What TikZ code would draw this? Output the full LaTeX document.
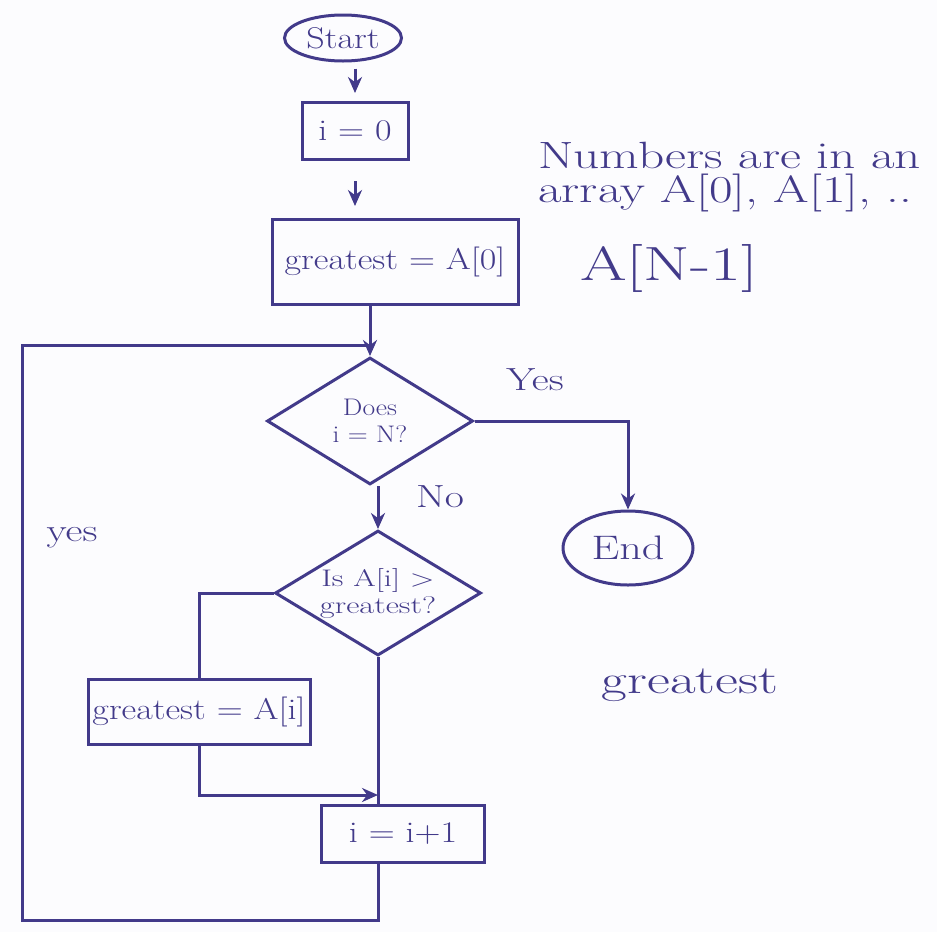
\documentclass[tikz,border=0pt]{standalone}
\usepackage{graphicx}
\usetikzlibrary{shapes.geometric,arrows.meta}
\definecolor{ink}{RGB}{66,58,138}
\definecolor{paper}{RGB}{252,252,254}
\newcommand\hwide[2][1.2]{\scalebox{#1}[1]{#2}}
\begin{document}
\begin{tikzpicture}[x=1pt,y=-1pt,
  every node/.style={text=ink, font=\fontsize{30}{34}\selectfont},
  flow/.style={draw=ink, line width=3pt},
  boxnode/.style={flow, rectangle, inner sep=2pt},
  termnode/.style={flow, ellipse, inner sep=0pt},
  decnode/.style={flow, diamond, aspect=1.6, inner sep=0pt, align=center, font=\fontsize{24}{27}\selectfont},
  conn/.style={draw=ink, line width=3pt},
  arr/.style={conn, -{Stealth[length=16pt,width=14pt]}},
  lbl/.style={font=\fontsize{32}{36}\selectfont},
  notetext/.style={font=\fontsize{38}{40}\selectfont, inner sep=0pt}]
\path[fill=paper, use as bounding box] (0,0) rectangle (937,932);

% nodes
\node[termnode, minimum width=117pt, minimum height=46pt] (start) at (343,38) {\hwide{Start}};
\node[boxnode, minimum width=106pt, minimum height=57pt] (init) at (355,131) {\hwide{i = 0}};
\node[boxnode, minimum width=246pt, minimum height=85pt] (g0) at (395,262) {\hwide{greatest = A[0]}};
\node[decnode, minimum width=206pt, minimum height=127pt] (d1) at (370,421) {\hwide[1.15]{Does}\\ \hwide[1.15]{i = N?}};
\node[decnode, minimum width=206pt, minimum height=125pt] (d2) at (378,593) {\hwide[1.35]{Is A[i] >}\\ \hwide[1.35]{greatest?}};
\node[termnode, minimum width=130pt, minimum height=74pt, font=\fontsize{34}{38}\selectfont] (fin) at (628,548) {\hwide[1.3]{End}};
\node[boxnode, minimum width=222pt, minimum height=65pt] (ga) at (199,712) {\hwide{greatest = A[i]}};
\node[boxnode, minimum width=163pt, minimum height=57pt] (inc) at (403,834) {\hwide{i = i+1}};

% text
\node[notetext, anchor=west] (note1) at (538,155) {\hwide[1.35]{Numbers are in an}};
\node[notetext, anchor=west] (note1b) at (538,193) {\hwide[1.35]{array A[0], A[1], ..}};
\node[notetext, anchor=west, font=\fontsize{48}{50}\selectfont] (note2) at (580,268) {\hwide[1.4]{A[N-1]}};
\node[lbl] (lyes) at (535,380) {\hwide[1.3]{Yes}};
\node[lbl] (lno) at (440,497) {\hwide[1.3]{No}};
\node[lbl] (lyes2) at (72,538) {\hwide[1.3]{yes}};
\node[notetext, font=\fontsize{40}{44}\selectfont] (gout) at (690,685) {\hwide[1.4]{greatest}};

% coordinates
\coordinate (lb) at (22,920);
\coordinate (lt) at (22,345);
\coordinate (join) at (378,795);

% connectors
\draw[arr, shorten <=6pt, shorten >=8pt] (start.south -| init.north) -- (init.north);
\draw[arr, shorten <=20pt, shorten >=12pt] (init.south) -- (init.south |- g0.north);
\draw[arr] (d1.north |- g0.south) -- (d1.north);
\draw[arr] (d1.east) -- (d1.east -| fin.north) -- (fin.north);
\draw[arr] (d1.south -| d2.north) -- (d2.north);
\draw[conn] (d2.west) -| (ga.north);
\draw[arr] (ga.south) |- (join);
\draw[conn] (d2.south) -- (d2.south |- inc.north);
\draw[conn] (inc.south -| d2.south) |- (lb) -- (lt) -- (lt -| d1.north);
\end{tikzpicture}
\end{document}
